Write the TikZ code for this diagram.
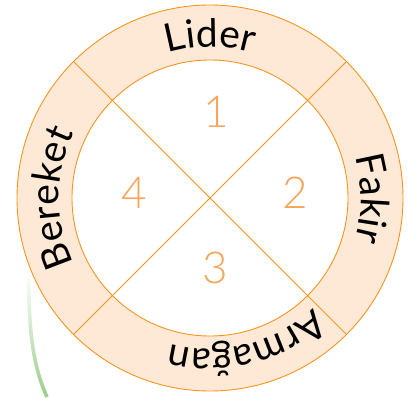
\documentclass[tikz,border=0pt]{standalone}
\usepackage{fontspec}
\setmainfont{Lato}
\newfontfamily\numfont{Lato Light}
\usetikzlibrary{decorations.text,fadings}
\definecolor{ringfill}{HTML}{FDE9D6}
\definecolor{ringline}{HTML}{F7941D}
\definecolor{numcol}{HTML}{F5A65B}
\definecolor{stemcol}{HTML}{9ACD8A}
\newcommand{\lblfont}{\fontsize{39}{39}\selectfont}
\tikzfading[name=stemfade, top color=transparent!100, middle color=transparent!10, bottom color=transparent!0]
\begin{document}
\begin{tikzpicture}[x=1pt,y=1pt,
  ringstroke/.style={draw=ringline, line width=0.9pt},
  numlabel/.style={text=numcol, font=\numfont\fontsize{44}{44}\selectfont, inner sep=0pt},
  arctext/.style={decorate, decoration={text along path, text align=center, text={|\lblfont|#1}}}]
\useasboundingbox (0,0) rectangle (418,397);
\coordinate (c) at (210,199);
% green stem behind the ring
\coordinate (s1) at (29,124);
\coordinate (s2) at (47,0);
\draw[stemcol, line width=3.6pt, path fading=stemfade] (s1) .. controls (28,70) and (33,30) .. (s2);
% ring
\fill[ringfill, even odd rule] (c) circle[radius=193] (c) circle[radius=138];
\draw[ringstroke] (c) circle[radius=193];
\draw[ringstroke] (c) circle[radius=138];
\draw[ringstroke] (c) ++(45:193) coordinate (ne) -- ++(225:386) coordinate (sw);
\draw[ringstroke] (c) ++(135:193) coordinate (nw) -- ++(-45:386) coordinate (se);
% numbers
\node[numlabel] (n1) at (216,285) {1};
\node[numlabel] (n2) at (295,204) {2};
\node[numlabel] (n3) at (215,129) {3};
\node[numlabel] (n4) at (134,204) {4};
% ring texts, clockwise with tops outward
\path[arctext=Lider] (c) ++(140:151) arc[start angle=140, end angle=40, radius=151];
\path[arctext=Fakir] (c) ++(50:151) arc[start angle=50, end angle=-50, radius=151];
\path[arctext=Armağan] (c) ++(-26:151) arc[start angle=-26, end angle=-126, radius=151];
\path[arctext=Bereket] (c) ++(230:151) arc[start angle=230, end angle=130, radius=151];
\end{tikzpicture}
\end{document}
